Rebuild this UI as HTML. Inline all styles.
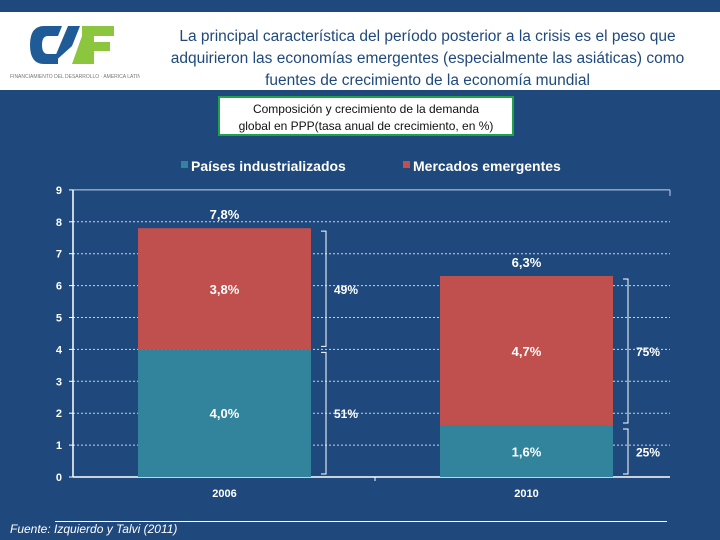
<!DOCTYPE html>
<html><head><meta charset="utf-8"><style>
body{margin:0;width:720px;height:540px;background:#1f497d;overflow:hidden;font-family:"Liberation Sans",sans-serif;position:relative}
.hdr{position:absolute;left:0;top:12px;width:720px;height:78px;background:#fff}
.title{position:absolute;left:145px;top:14px;width:565px;text-align:center;color:#1f497d;font-size:15.5px;line-height:22px}
.box{position:absolute;left:218px;top:96px;width:296px;height:40px;border:2px solid #1fa24a;background:#fff;text-align:center;font-size:12px;line-height:17px;color:#111;box-sizing:border-box;padding-top:3px}
</style></head><body>
<div class="hdr">
<svg width="140" height="78" style="position:absolute;left:0;top:0">
<path d="M62 14 L44 14 Q30 14 30 33 Q30 52 44 52 L58 52 L58 42 L48 42 Q42 42 42 33 Q42 24 48 24 L58 24Z" fill="#1f5b96"/>
<path d="M52 52 L68 14 L80 14 L72 34Z" fill="#1f5b96"/>
<path d="M72 52 L82 24 L82 14 L114 14 L114 24 L94 24 L94 30 L110 30 L110 39 L94 39 L94 52Z" fill="#8cc63f"/>
<text x="10" y="66" font-size="5" fill="#777" font-family="Liberation Sans">FINANCIAMIENTO DEL DESARROLLO · AMERICA LATINA</text>
</svg>
<div class="title">La principal característica del período posterior a la crisis es el peso que adquirieron las economías emergentes (especialmente las asiáticas) como fuentes de crecimiento de la economía mundial</div>
</div>
<div class="box">Composición y crecimiento de la demanda<br>global en PPP(tasa anual de crecimiento, en %)</div>
<svg id="c" width="720" height="540" style="position:absolute;left:0;top:0" font-family="Liberation Sans" font-weight="bold"></svg>
<div style="position:absolute;left:55px;top:521px;width:612px;height:1px;background:#fff"></div>
<div style="position:absolute;left:10px;top:522px;color:#fff;font-style:italic;font-size:12px">Fuente: Izquierdo y Talvi (2011)</div>
<script>
const categories=["2006","2010"];
const industrial=[4.0,1.6];
const emerging=[3.8,4.7];
const totals=["7,8%","6,3%"];
const indLabels=["4,0%","1,6%"];
const emLabels=["3,8%","4,7%"];
const indShare=["51%","25%"];
const emShare=["49%","75%"];
const yTicks=[0,1,2,3,4,5,6,7,8,9];
const svg=document.getElementById('c');const NS='http://www.w3.org/2000/svg';
const y0=477,ppu=31.9,xL=73,xR=670;
const Y=v=>y0-v*ppu;
const X=i=>138+i*302;const bw=173;
function el(t,a,txt){const e=document.createElementNS(NS,t);for(const k in a)e.setAttribute(k,a[k]);if(txt!=null)e.textContent=txt;svg.appendChild(e);return e;}
yTicks.forEach(t=>{
 if(t>0){const g=el('line',{x1:xL,x2:xR,y1:Y(t),y2:Y(t),stroke:'#c8d4e6','stroke-width':1,'stroke-dasharray':t==9?'':'2,2'});
 
 }
 el('line',{x1:xL-4,x2:xL,y1:Y(t),y2:Y(t),stroke:'#fff'});
 const l=el('text',{x:62,y:Y(t)+4,fill:'#fff','font-size':11,'text-anchor':'end'},t);
 
 
});
el('line',{x1:xR,x2:xR,y1:Y(9),y2:Y(9)+6,stroke:'#c8d4e6'});
const ax=el('line',{x1:xL,x2:xL,y1:Y(9),y2:y0,stroke:'#fff','stroke-width':1.5});


const xa=el('line',{x1:xL,x2:xR,y1:y0,y2:y0,stroke:'#fff','stroke-width':1.5});


el('line',{x1:375,x2:375,y1:y0,y2:y0+4,stroke:'#fff'});
categories.forEach((c,i)=>{
 const x=X(i),cx=x+bw/2,tot=industrial[i]+emerging[i];
 const b1=el('rect',{x:x,y:Y(industrial[i]),width:bw,height:industrial[i]*ppu,fill:'#31849b'});
 
 
 const b2=el('rect',{x:x,y:Y(tot),width:bw,height:emerging[i]*ppu,fill:'#c0504d'});
 
 
 el('text',{x:cx,y:Y(tot)-9,fill:'#fff','font-size':13,'text-anchor':'middle'},totals[i]);
 el('text',{x:cx,y:Y(industrial[i]/2)+5,fill:'#fff','font-size':13,'text-anchor':'middle'},indLabels[i]);
 el('text',{x:cx,y:Y(industrial[i]+emerging[i]/2)+5,fill:'#fff','font-size':13,'text-anchor':'middle'},emLabels[i]);
 const xl=el('text',{x:cx,y:497,fill:'#fff','font-size':11,'text-anchor':'middle'},c);
 
 
 const bx=x+bw+15;
 [[0,industrial[i]],[industrial[i],tot]].forEach(([a,b])=>{
  el('path',{d:`M${bx-5} ${Y(b)+3} H${bx} V${Y(a)-3} H${bx-5}`,fill:'none',stroke:'#fff','stroke-width':1});
 });
 el('text',{x:bx+8,y:Y(industrial[i]/2)+5,fill:'#fff','font-size':12},indShare[i]);
 el('text',{x:bx+8,y:Y(industrial[i]+emerging[i]/2)+5,fill:'#fff','font-size':12},emShare[i]);
});
const lg1=el('rect',{x:181,y:161,width:7,height:7,fill:'#31849b'});


el('text',{x:191,y:171,fill:'#fff','font-size':14},'Países industrializados');
const lg2=el('rect',{x:403,y:161,width:7,height:7,fill:'#c0504d'});


el('text',{x:413,y:171,fill:'#fff','font-size':14},'Mercados emergentes');
</script>
</body></html>
